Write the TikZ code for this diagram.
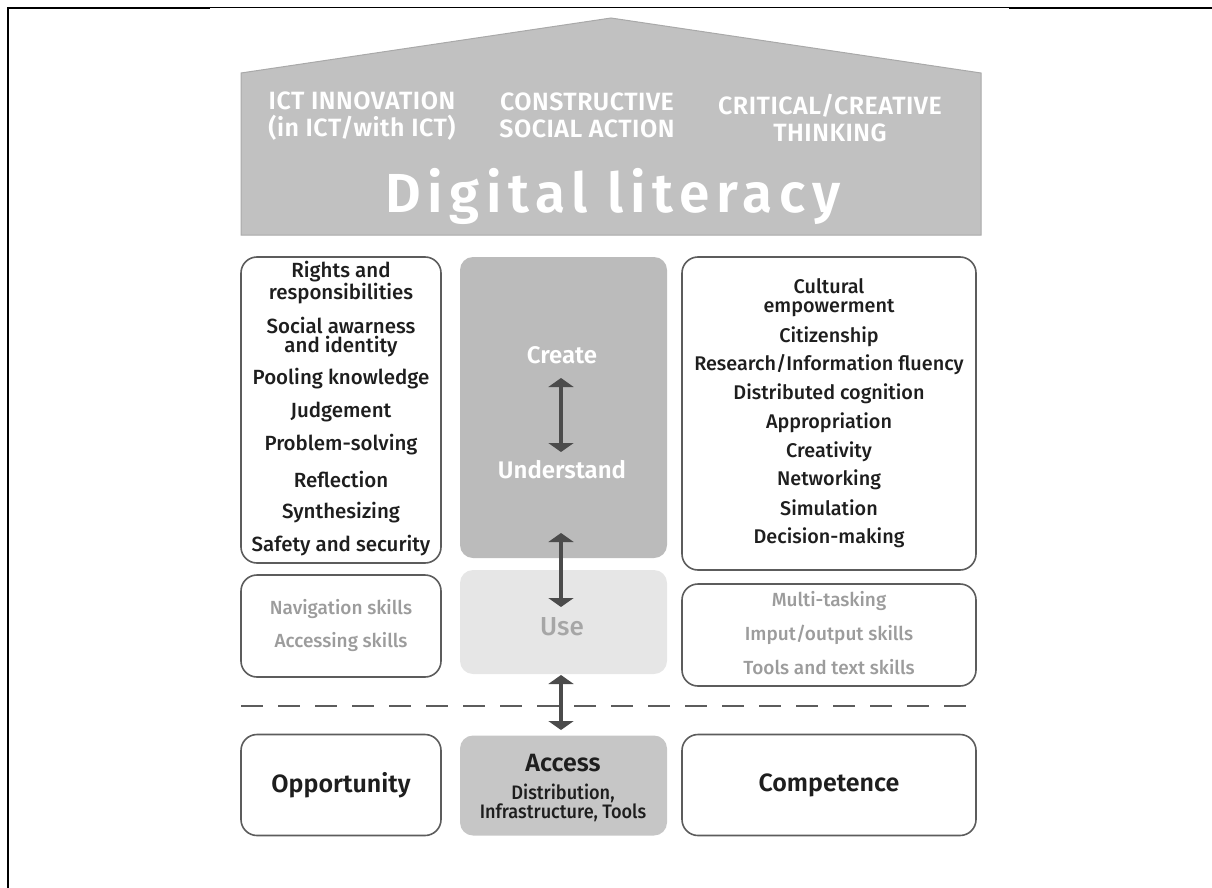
\documentclass[tikz,border=0pt]{standalone}
\usepackage{fontspec}
\setmainfont{Fira Sans}
\newfontfamily\itemfont{Fira Sans Medium}
\newfontfamily\boldfont{Fira Sans SemiBold}
\newfontfamily\condfont[FakeStretch=0.93]{Fira Sans Medium}
\newfontfamily\headfont[LetterSpace=2]{Fira Sans SemiBold}
\newfontfamily\titlefont[LetterSpace=12]{Fira Sans SemiBold}
\usetikzlibrary{arrows.meta}

\definecolor{roofgray}{HTML}{C1C1C1}
\definecolor{roofedge}{HTML}{A9A9A9}
\definecolor{midgray}{HTML}{BBBBBB}
\definecolor{usegray}{HTML}{E6E6E6}
\definecolor{accgray}{HTML}{C6C6C6}
\definecolor{boxline}{HTML}{5C5C5C}
\definecolor{arrowgray}{HTML}{4B4B4B}
\definecolor{ink}{HTML}{1E1E1E}
\definecolor{faint}{HTML}{9C9C9C}

\begin{document}
\begin{tikzpicture}[x=1pt,y=-1pt,
	wbox/.style={draw=boxline, line width=1.6pt, fill=white, rounded corners=16pt, inner sep=0pt},
	gbox/.style={rounded corners=13pt, inner sep=0pt},
	item/.style={font=\itemfont\fontsize{20.5}{19}\selectfont, text=ink, align=center, inner sep=0pt},
	lowitem/.style={item, font=\itemfont\fontsize{19}{19}\selectfont, text=faint},
	head/.style={font=\headfont\fontsize{25}{27}\selectfont, text=white, align=center, inner sep=0pt},
	big/.style={font=\boldfont\fontsize{25}{25}\selectfont, text=ink, inner sep=0pt},
	dbl/.style={draw=arrowgray, line width=4.5pt, {Triangle[width=25pt,length=9pt]}-{Triangle[width=25pt,length=9pt]}}
	]
	\useasboundingbox (0,0) rectangle (1212,888);

	% page frame
	\draw[line width=2pt] (8,888) -- (8,8) -- (210,8);
	\draw[line width=1pt] (210,8) -- (1009,8);
	\draw[line width=2pt] (1009,8) -- (1212,8);

	% roof
	\filldraw[fill=roofgray, draw=roofedge, line width=1pt]
		(241,235) -- (241,73) -- (611,18) -- (981,73) -- (981,235) -- cycle;
	\path (362,116) node[head] (ict) {ICT INNOVATION\\(in ICT/with ICT)};
	\path (587,115) node[head] (social) {CONSTRUCTIVE\\SOCIAL ACTION};
	\path (830,118) node[head] (critical) {CRITICAL/CREATIVE\\THINKING};
	\path (613,196) node[font=\titlefont\fontsize{55}{55}\selectfont, text=white, inner sep=0pt] (title) {Digital literacy};

	% columns
	\node[wbox, minimum width=200, minimum height=306] (rights) at (341,410) {};
	\node[gbox, fill=midgray, minimum width=207, minimum height=301] (core) at (563.5,407.5) {};
	\node[wbox, minimum width=294, minimum height=313] (culture) at (829,413.5) {};
	\node[wbox, minimum width=200, minimum height=102] (navi) at (341,626) {};
	\node[gbox, fill=usegray, minimum width=207, minimum height=104] (usebox) at (563.5,622) {};
	\node[wbox, minimum width=294, minimum height=102] (tools) at (829,635) {};

	% left list
	\foreach \t/\y [count=\i] in {{Rights and\\responsibilities}/282.5, {Social awarness\\and identity}/337,
		{Pooling knowledge}/379, Judgement/412, Problem-solving/445, Reflection/479,
		Synthesizing/513, {Safety and security}/546}
		\path (341,\y) node[item] (l\i) {\t};

	% right list
	\foreach \t/\y [count=\i] in {{Cultural\\empowerment}/298, Citizenship/337,
		{Research/Information fluency}/365, {Distributed cognition}/394, Appropriation/423,
		Creativity/452, Networking/480, Simulation/508, Decision-making/538}
		\path (829,\y) node[item, font=\itemfont\fontsize{19.8}{19}\selectfont] (r\i) {\t};

	% skills row
	\path (341,609) node[lowitem] (nav) {Navigation skills};
	\path (341,642) node[lowitem] (acc) {Accessing skills};
	\foreach \t/\y [count=\i] in {Multi-tasking/601, {Imput/output skills}/635, {Tools and text skills}/667}
		\path (829,\y) node[lowitem] (s\i) {\t};

	\path (562,355) node[big, font=\boldfont\fontsize{24}{24}\selectfont, text=white] (create) {Create};
	\path (562,470) node[big, font=\boldfont\fontsize{24}{24}\selectfont, text=white] (understand) {Understand};
	\path (562,627) node[big, font=\itemfont\fontsize{26}{26}\selectfont, text=faint!90] (use) {Use};

	% divider
	\draw[draw=boxline, line width=1.6pt, dash pattern=on 22pt off 15pt] (241,706) -- (976,706);

	% base row
	\node[wbox, minimum width=200, minimum height=101] (opp) at (341,785) {};
	\node[gbox, fill=accgray, minimum width=207, minimum height=100] (access) at (563.5,785.5) {};
	\node[wbox, minimum width=294, minimum height=101] (comp) at (829,785) {};
	\path (341,785) node[big] (opptext) {Opportunity};
	\path (829,785) node[big] (comptext) {Competence};
	\path (563,763) node[big] (acctext) {Access};
	\path (563,803) node[item, font=\condfont\fontsize{19.5}{19}\selectfont] (infra) {Distribution,\\Infrastructure, Tools};

	% arrows
	\coordinate (a1) at (561,378);
	\coordinate (a2) at (561,452);
	\coordinate (a3) at (561,533);
	\coordinate (a4) at (561,607);
	\coordinate (a5) at (561,675);
	\coordinate (a6) at (561,730);
	\draw[dbl] (a1) -- (a2);
	\draw[dbl] (a3) -- (a4);
	\draw[dbl] (a5) -- (a6);
\end{tikzpicture}
\end{document}
